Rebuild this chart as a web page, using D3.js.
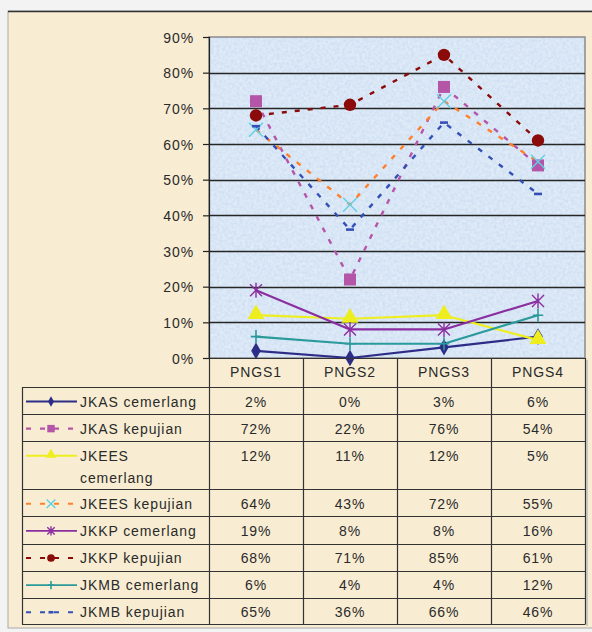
<!DOCTYPE html>
<html><head><meta charset="utf-8">
<script src="https://cdn.jsdelivr.net/npm/d3@7/dist/d3.min.js"></script>
<style>
html,body{margin:0;padding:0;background:#f3f3f3;}
svg{display:block;}
text{font-family:"Liberation Sans",Arial,sans-serif;font-size:14px;fill:#2a2a2a;letter-spacing:0.9px;}
</style></head>
<body>
<svg id="c" width="592" height="632"></svg>
<script>
const categories = ["PNGS1","PNGS2","PNGS3","PNGS4"];
const yTicks = [0,0.1,0.2,0.3,0.4,0.5,0.6,0.7,0.8,0.9];
const seriesNames = ["JKAS cemerlang","JKAS kepujian","JKEES cemerlang","JKEES kepujian","JKKP cemerlang","JKKP kepujian","JKMB cemerlang","JKMB kepujian"];
const jkasCemerlang  = [0.02,0.00,0.03,0.06];
const jkasKepujian   = [0.72,0.22,0.76,0.54];
const jkeesCemerlang = [0.12,0.11,0.12,0.05];
const jkeesKepujian  = [0.64,0.43,0.72,0.55];
const jkkpCemerlang  = [0.19,0.08,0.08,0.16];
const jkkpKepujian   = [0.68,0.71,0.85,0.61];
const jkmbCemerlang  = [0.06,0.04,0.04,0.12];
const jkmbKepujian   = [0.65,0.36,0.66,0.46];
const seriesValues = [jkasCemerlang,jkasKepujian,jkeesCemerlang,jkeesKepujian,jkkpCemerlang,jkkpKepujian,jkmbCemerlang,jkmbKepujian];
const legendLines = [["JKAS cemerlang"],["JKAS kepujian"],["JKEES","cemerlang"],["JKEES kepujian"],["JKKP cemerlang"],["JKKP kepujian"],["JKMB cemerlang"],["JKMB kepujian"]];

const styles = [
  {color:"#2d2d88", dash:null, marker:"diamond", mcolor:"#2d2d88"},
  {color:"#b455a8", dash:"5,8", marker:"square", mcolor:"#b455a8"},
  {color:"#eeee1e", dash:null, marker:"triangle", mcolor:"#eeee1e"},
  {color:"#ff7f2a", dash:"5,8", marker:"x", mcolor:"#5fd0e4"},
  {color:"#8a2ea0", dash:null, marker:"star", mcolor:"#8a2ea0"},
  {color:"#8b0b0b", dash:"5,8", marker:"circle", mcolor:"#8b0b0b"},
  {color:"#2a9a9a", dash:null, marker:"plus", mcolor:"#2a9a9a"},
  {color:"#3450b8", dash:"5,8", marker:"dash", mcolor:"#3450b8"}
];

const svg = d3.select("#c");
const plotL=209, plotR=585, plotT=37, plotB=358;
const tableL=22, headB=387, tableB=624;

const x = d3.scaleBand().domain(categories).range([plotL,plotR]);
const y = d3.scaleLinear().domain([0,0.9]).range([plotB,plotT]);
const cx = c => x(c)+x.bandwidth()/2;

const defs = svg.append("defs");
const f1 = defs.append("filter").attr("id","tex").attr("x",0).attr("y",0).attr("width","100%").attr("height","100%");
f1.append("feTurbulence").attr("type","fractalNoise").attr("baseFrequency","0.35").attr("numOctaves",2).attr("seed",3).attr("result","n");
f1.append("feColorMatrix").attr("in","n").attr("type","matrix")
  .attr("values","0 0 0 0 1  0 0 0 0 1  0 0 0 0 1  0 0 0 0.7 -0.15").attr("result","w");
f1.append("feComposite").attr("in","w").attr("in2","SourceGraphic").attr("operator","in");

// outer frame
svg.append("rect").attr("x",8).attr("y",11).attr("width",600).attr("height",617)
  .attr("fill","#f8edd3").attr("stroke","#aaa").attr("stroke-width",1);
svg.append("line").attr("x1",8).attr("x2",592).attr("y1",11.5).attr("y2",11.5).attr("stroke","#333").attr("stroke-width",1.5);

// plot background
svg.append("rect").attr("x",plotL).attr("y",plotT).attr("width",plotR-plotL).attr("height",plotB-plotT)
  .attr("fill","#cfe0f3");
svg.append("rect").attr("x",plotL).attr("y",plotT).attr("width",plotR-plotL).attr("height",plotB-plotT)
  .attr("fill","#cfe0f3").attr("filter","url(#tex)");
svg.append("rect").attr("x",plotL).attr("y",plotT).attr("width",plotR-plotL).attr("height",plotB-plotT)
  .attr("fill","none").attr("stroke","#8a8a8a").attr("stroke-width",1.5);

// gridlines
svg.append("g").selectAll("line").data(yTicks.filter(t=>t>0 && t<0.9)).join("line")
  .attr("x1",plotL).attr("x2",plotR).attr("y1",d=>Math.round(y(d))+0.5).attr("y2",d=>Math.round(y(d))+0.5)
  .attr("stroke","#262626").attr("stroke-width",1.3);

// y axis
const yAxis = d3.axisLeft(y).tickValues(yTicks).tickFormat(d3.format(".0%")).tickSize(6).tickPadding(9);
const ga = svg.append("g").attr("transform",`translate(${plotL},0)`).call(yAxis);
ga.select(".domain").attr("stroke","#222").attr("stroke-width",1.2);
ga.selectAll(".tick line").attr("stroke","#222").attr("stroke-width",1.2);
ga.selectAll(".tick text").attr("font-family",null).attr("font-size",null).style("fill","#2a2a2a").attr("dy","0.36em");

function drawMarker(g, type, color, s){
  switch(type){
    case "diamond": g.append("path").attr("d",d3.symbol(d3.symbolDiamond, 80*s*s)()).attr("fill",color); break;
    case "square": g.append("path").attr("d",d3.symbol(d3.symbolSquare, 144*s*s)()).attr("fill",color); break;
    case "triangle": g.append("path").attr("d",d3.symbol(d3.symbolTriangle, 125*s*s)()).attr("fill",color).attr("transform","translate(0,-1)"); break;
    case "circle": g.append("circle").attr("r",6.2*s).attr("fill",color); break;
    case "x": {const r=7*s; g.append("path").attr("d",`M${-r},${-r}L${r},${r}M${-r},${r}L${r},${-r}`).attr("stroke",color).attr("stroke-width",1.4).attr("fill","none"); break;}
    case "star": {const r=6*s; g.append("path").attr("d",`M${-r},${-r}L${r},${r}M${-r},${r}L${r},${-r}M0,${-r*1.25}L0,${r*1.25}`).attr("stroke",color).attr("stroke-width",1.4).attr("fill","none"); break;}
    case "plus": {const r=6.5*s; g.append("path").attr("d",`M0,${-r}L0,${r}M${-r*0.8},0L${r*0.8},0`).attr("stroke",color).attr("stroke-width",1.6).attr("fill","none"); break;}
    case "dash": {const r=4*s; g.append("path").attr("d",`M${-r},0L${r},0`).attr("stroke",color).attr("stroke-width",2.6).attr("fill","none"); break;}
  }
}

const line = d3.line().x((d,i)=>cx(categories[i])).y(d=>y(d));
const sg = svg.append("g");
seriesValues.forEach((vals,si)=>{
  const st = styles[si];
  sg.append("path").attr("d",line(vals)).attr("fill","none").attr("stroke",st.color)
    .attr("stroke-width",st.dash?2.4:2.2).attr("stroke-dasharray",st.dash).attr("stroke-linejoin","round");
});
seriesValues.forEach((vals,si)=>{
  const st = styles[si];
  vals.forEach((v,i)=>{
    const g = sg.append("g").attr("transform",`translate(${cx(categories[i])},${y(v)})`);
    drawMarker(g, st.marker, st.mcolor, 1);
  });
});

// table
const rowH = legendLines.map(l=>l.length>1?48:27.125);
const rowTop = []; let acc = headB;
rowH.forEach(h=>{rowTop.push(acc); acc+=h;});
const tg = svg.append("g");
const stroke = "#333";
tg.selectAll("text.h").data(categories).join("text").attr("class","h")
  .attr("x",d=>cx(d)).attr("y",372).attr("dy","0.36em").attr("text-anchor","middle").text(d=>d);
tg.append("line").attr("x1",plotL).attr("x2",plotR).attr("y1",plotB+0.5).attr("y2",plotB+0.5).attr("stroke",stroke).attr("stroke-width",1.2);
rowTop.concat([tableB]).forEach(t=>{
  tg.append("line").attr("x1",tableL).attr("x2",plotR).attr("y1",Math.round(t)+0.5).attr("y2",Math.round(t)+0.5).attr("stroke",stroke).attr("stroke-width",1.2);
});
categories.forEach(c=>{
  tg.append("line").attr("x1",x(c)+x.bandwidth()+0.5).attr("x2",x(c)+x.bandwidth()+0.5).attr("y1",plotB).attr("y2",tableB+0.5).attr("stroke",stroke).attr("stroke-width",1.2);
});
tg.append("line").attr("x1",plotL+0.5).attr("x2",plotL+0.5).attr("y1",plotB).attr("y2",tableB+0.5).attr("stroke",stroke).attr("stroke-width",1.2);
tg.append("line").attr("x1",tableL+0.5).attr("x2",tableL+0.5).attr("y1",headB).attr("y2",tableB+0.5).attr("stroke",stroke).attr("stroke-width",1.2);
tg.append("line").attr("x1",plotR+2).attr("x2",plotR+2).attr("y1",plotB+2).attr("y2",tableB+2).attr("stroke","#bbb").attr("stroke-width",1.5);

const fmt = d3.format(".0%");
seriesValues.forEach((vals,si)=>{
  const top = rowTop[si];
  const ty = top + 14.5;
  const st = styles[si];
  const lg = tg.append("g");
  if(st.dash){
    lg.append("line").attr("x1",26).attr("x2",77).attr("y1",ty).attr("y2",ty).attr("stroke",st.color)
      .attr("stroke-width",2.2).attr("stroke-dasharray","5,9");
  } else {
    lg.append("line").attr("x1",26).attr("x2",77).attr("y1",ty).attr("y2",ty).attr("stroke",st.color).attr("stroke-width",1.8);
  }
  const mg = lg.append("g").attr("transform",`translate(51,${ty})`);
  drawMarker(mg, st.marker, st.mcolor, 0.62);
  legendLines[si].forEach((t,li)=>{
    tg.append("text").attr("x",80).attr("y",ty+li*22).attr("dy","0.36em").text(t);
  });
  vals.forEach((v,i)=>{
    tg.append("text").attr("x",cx(categories[i])).attr("y",ty).attr("dy","0.36em").attr("text-anchor","middle").text(fmt(v));
  });
});
</script>
</body></html>
